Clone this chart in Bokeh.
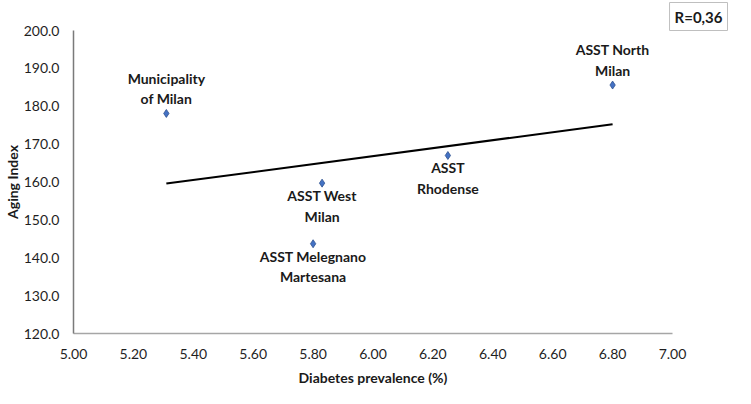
import numpy as np
from bokeh.plotting import figure
from bokeh.models import ColumnDataSource, Range1d, FixedTicker, NumeralTickFormatter
from bokeh.core.properties import value
from bokeh.embed import file_html
from bokeh.resources import INLINE

# ---- data ----
areas = ["Municipality\nof Milan", "ASST North\nMilan", "ASST\nRhodense",
         "ASST West\nMilan", "ASST Melegnano\nMartesana"]
diabetes = [5.31, 6.80, 6.25, 5.83, 5.80]
aging = [178.1, 185.6, 167.0, 159.7, 143.7]
label_above = [True, True, False, False, False]
x_ticks = [5.0, 5.2, 5.4, 5.6, 5.8, 6.0, 6.2, 6.4, 6.6, 6.8, 7.0]
y_ticks = [120, 130, 140, 150, 160, 170, 180, 190, 200]
r_text = "R=0,36"

FONT = "Lato"

p = figure(width=735, height=388, output_backend="svg", toolbar_location=None,
           x_range=Range1d(5.0, 7.0), y_range=Range1d(120, 200),
           min_border_left=73, min_border_right=63, min_border_top=30, min_border_bottom=55)
p.outline_line_color = None
p.xgrid.visible = False
p.ygrid.visible = False
p.background_fill_color = "white"

# R box as title, right aligned above the frame
p.title.text = r_text
p.title.align = "right"
p.title.text_font = FONT
p.title.text_font_size = "15px"
p.title.text_font_style = "bold"
p.title.text_color = "#1a1a1a"
p.title.background_fill_color = "white"
p.title.border_line_color = "#bfbfbf"
p.title.border_line_width = 1
p.title.padding = 5
p.title.standoff = 0
p.title.offset = -55

# axes
p.xaxis.ticker = FixedTicker(ticks=x_ticks)
p.yaxis.ticker = FixedTicker(ticks=y_ticks)
p.xaxis.formatter = NumeralTickFormatter(format="0.00")
p.yaxis.formatter = NumeralTickFormatter(format="0.0")
for ax in (p.xaxis, p.yaxis):
    ax.major_tick_line_color = None
    ax.minor_tick_line_color = None
    ax.major_label_text_font = FONT
    ax.major_label_text_font_size = "14px"
    ax.major_label_text_color = "#1f1f1f"
    ax.axis_label_text_font = FONT
    ax.axis_label_text_font_size = "14px"
    ax.axis_label_text_font_style = "bold"
    ax.axis_label_text_color = "#1a1a1a"
p.xaxis.axis_line_color = "#a6a6a6"
p.yaxis.axis_line_color = "#7a7a7a"
p.xaxis.axis_line_width = 1.5
p.yaxis.axis_line_width = 1.5
p.xaxis.major_label_standoff = 9
p.yaxis.major_label_standoff = 8
p.xaxis.axis_label = "Diabetes prevalence (%)"
p.yaxis.axis_label = "Aging Index"
p.xaxis.axis_label_standoff = 7
p.yaxis.axis_label_standoff = 0

# trend line from linear fit
slope, intercept = np.polyfit(diabetes, aging, 1)
tx = [min(diabetes), max(diabetes)]
ty = [slope * v + intercept for v in tx]
p.line(tx, ty, line_color="black", line_width=2)

# points
src = ColumnDataSource(dict(x=diabetes, y=aging, name=areas))
p.scatter("x", "y", source=src, marker="diamond", size=8,
          fill_color="#4472C4", line_color="#2F528F", line_width=0.8)

above = ColumnDataSource(dict(
    x=[d for d, a in zip(diabetes, label_above) if a],
    y=[g for g, a in zip(aging, label_above) if a],
    name=[n for n, a in zip(areas, label_above) if a]))
below = ColumnDataSource(dict(
    x=[d for d, a in zip(diabetes, label_above) if not a],
    y=[g for g, a in zip(aging, label_above) if not a],
    name=[n for n, a in zip(areas, label_above) if not a]))

common = dict(text="name", text_font=value(FONT), text_font_size="14px",
              text_font_style="bold", text_color="#1a1a1a", text_align="center",
              text_line_height=1.22)
p.text("x", "y", source=above, text_baseline="bottom", y_offset=-6, **common)
p.text("x", "y", source=below, text_baseline="top", y_offset=4, **common)

open("out.html", "w").write(file_html(p, INLINE))
